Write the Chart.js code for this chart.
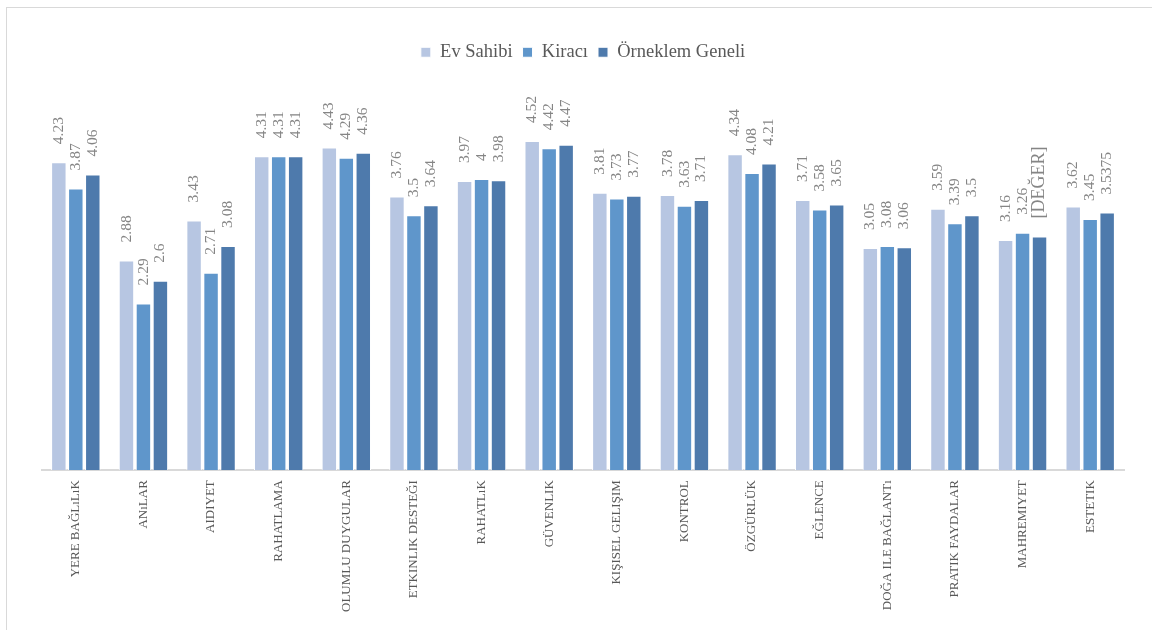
<!DOCTYPE html>
<html>
<head>
<meta charset="utf-8">
<script src="https://cdn.jsdelivr.net/npm/chart.js@4.4.0/dist/chart.umd.min.js"></script>
<style>
  html, body { margin: 0; padding: 0; background: #fff; }
  body { width: 1152px; height: 630px; position: relative; overflow: hidden; }
  #frame { position: absolute; left: 6px; top: 7px; width: 1200px; height: 700px; border: 1.5px solid #d9d9d9; }
  #wrap { position: absolute; left: 0; top: 0; width: 1152px; height: 630px; }
</style>
</head>
<body>
<div id="frame"></div>
<div id="wrap"><canvas id="chart" width="1152" height="630"></canvas></div>
<script>
// Categories (x axis)
const categories = [
    'YERE BAĞLıLıK', 'ANıLAR', 'AIDIYET', 'RAHATLAMA', 'OLUMLU DUYGULAR',
    'ETKINLIK DESTEĞI', 'RAHATLıK', 'GÜVENLIK', 'KIŞISEL GELIŞIM', 'KONTROL',
    'ÖZGÜRLÜK', 'EĞLENCE', 'DOĞA ILE BAĞLANTı', 'PRATIK FAYDALAR', 'MAHREMIYET', 'ESTETIK'
];

// Series values
const evSahibi = [4.23, 2.88, 3.43, 4.31, 4.43, 3.76, 3.97, 4.52, 3.81, 3.78, 4.34, 3.71, 3.05, 3.59, 3.16, 3.62];
const kiraci = [3.87, 2.29, 2.71, 4.31, 4.29, 3.5, 4, 4.42, 3.73, 3.63, 4.08, 3.58, 3.08, 3.39, 3.26, 3.45];
const orneklem = [4.06, 2.6, 3.08, 4.31, 4.36, 3.64, 3.98, 4.47, 3.77, 3.71, 4.21, 3.65, 3.06, 3.5, 3.21, 3.5375];

// Data label texts (one label in the source is a placeholder field)
const evSahibiLabels = evSahibi.map(String);
const kiraciLabels = kiraci.map(String);
const orneklemLabels = orneklem.map((v, i) => i === 14 ? '[DEĞER]' : String(v));

const seriesNames = ['Ev Sahibi', 'Kiracı', 'Örneklem Geneli'];
const seriesColors = ['#b7c6e2', '#5f96cb', '#4e7aac'];

// Rotated value labels above each bar
const valueLabels = {
    id: 'valueLabels',
    afterDatasetsDraw(chart) {
        const ctx = chart.ctx;
        chart.data.datasets.forEach((ds, di) => {
            const meta = chart.getDatasetMeta(di);
            meta.data.forEach((bar, i) => {
                const text = ds.valueText[i];
                const big = text.startsWith('[');
                ctx.save();
                ctx.font = (big ? '18px' : '15.5px') + ' "Liberation Serif", serif';
                ctx.fillStyle = '#858585';
                ctx.textAlign = 'left';
                ctx.textBaseline = 'middle';
                ctx.translate(bar.x, bar.y - 18);
                ctx.rotate(-Math.PI / 2);
                ctx.fillText(text, 0, 0);
                ctx.restore();
            });
        });
    }
};

const ctx = document.getElementById('chart').getContext('2d');
new Chart(ctx, {
    type: 'bar',
    data: {
        labels: categories,
        datasets: [
            { label: seriesNames[0], data: evSahibi, valueText: evSahibiLabels, backgroundColor: seriesColors[0] },
            { label: seriesNames[1], data: kiraci, valueText: kiraciLabels, backgroundColor: seriesColors[1] },
            { label: seriesNames[2], data: orneklem, valueText: orneklemLabels, backgroundColor: seriesColors[2] }
        ].map(d => Object.assign(d, {
            borderColor: '#ffffff',
            borderWidth: 1,
            categoryPercentage: 0.753,
            barPercentage: 0.91
        }))
    },
    options: {
        responsive: false,
        animation: false,
        devicePixelRatio: 1,
        layout: { padding: { left: 42, right: 28, top: 33, bottom: 8 } },
        scales: {
            x: {
                grid: { display: false, drawTicks: false },
                border: { display: true, color: '#d9d9d9', width: 2 },
                ticks: {
                    maxRotation: 90,
                    minRotation: 90,
                    padding: 10,
                    autoSkip: false,
                    color: '#595959',
                    font: { family: '"Liberation Serif", serif', size: 13 }
                }
            },
            y: {
                display: false,
                min: 0,
                max: 5.475
            }
        },
        plugins: {
            legend: {
                position: 'top',
                labels: {
                    boxWidth: 10,
                    boxHeight: 10,
                    padding: 10,
                    color: '#595959',
                    font: { family: '"Liberation Serif", serif', size: 18.5 }
                }
            },
            tooltip: { enabled: false }
        }
    },
    plugins: [valueLabels]
});
</script>
</body>
</html>
